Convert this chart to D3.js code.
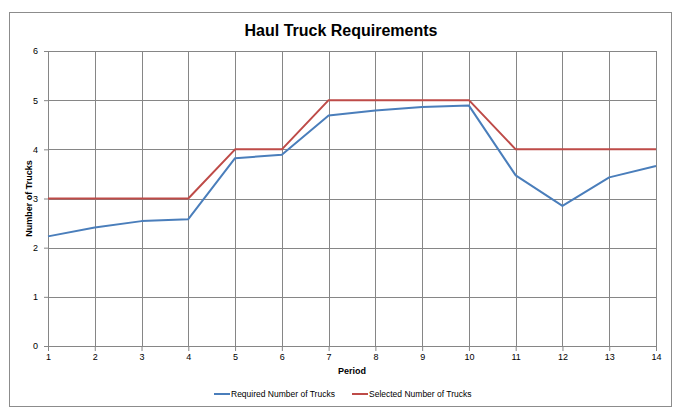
<!DOCTYPE html>
<html>
<head>
<meta charset="utf-8">
<script src="https://cdn.jsdelivr.net/npm/d3@7"></script>
<style>
  body { margin: 0; background: #fff; }
  text { font-family: "Liberation Sans", Arial, sans-serif; fill: #000; }
</style>
</head>
<body>
<div id="chart"></div>
<script>
const periods = [1, 2, 3, 4, 5, 6, 7, 8, 9, 10, 11, 12, 13, 14];
const required = [2.23, 2.41, 2.54, 2.58, 3.82, 3.89, 4.69, 4.79, 4.86, 4.89, 3.47, 2.85, 3.43, 3.66];
const selected = [3, 3, 3, 3, 4, 4, 5, 5, 5, 5, 4, 4, 4, 4];
const yTicks = [0, 1, 2, 3, 4, 5, 6];
const seriesNames = ["Required Number of Trucks", "Selected Number of Trucks"];
const colors = ["#4A7EBB", "#BE4B48"];

const W = 683, H = 420;
const margin = { top: 51, right: 27, bottom: 74, left: 48 };
const width = W - margin.left - margin.right;
const height = H - margin.top - margin.bottom;

const svg = d3.select("#chart").append("svg")
    .attr("width", W)
    .attr("height", H);

// outer chart frame
svg.append("rect")
    .attr("x", 9.5).attr("y", 12.5)
    .attr("width", 662).attr("height", 394)
    .attr("fill", "none")
    .attr("stroke", "#8c8c8c");

svg.append("text")
    .text("Haul Truck Requirements")
    .attr("x", 341).attr("y", 36)
    .attr("text-anchor", "middle")
    .attr("font-size", "16px")
    .attr("font-weight", "bold");

const g = svg.append("g")
    .attr("transform", "translate(" + margin.left + "," + margin.top + ")");

const x = d3.scaleLinear().domain([1, 14]).range([0, width]);
const y = d3.scaleLinear().domain([0, 6]).range([height, 0]);

// gridlines
g.selectAll(".hgrid").data(yTicks).enter().append("line")
    .attr("x1", 0).attr("x2", width)
    .attr("y1", d => Math.round(y(d)) + 0.5).attr("y2", d => Math.round(y(d)) + 0.5)
    .attr("stroke", "#868686");
g.selectAll(".vgrid").data(periods).enter().append("line")
    .attr("y1", 0).attr("y2", height)
    .attr("x1", d => Math.round(x(d)) + 0.5).attr("x2", d => Math.round(x(d)) + 0.5)
    .attr("stroke", "#868686");

// axes
const xAxis = g.append("g")
    .attr("transform", "translate(0," + height + ")")
    .call(d3.axisBottom(x).tickValues(periods).tickSize(5).tickPadding(3).tickFormat(d3.format("d")));
const yAxis = g.append("g")
    .call(d3.axisLeft(y).tickValues(yTicks).tickSize(4).tickPadding(6).tickFormat(d3.format("d")));
[xAxis, yAxis].forEach(a => {
    a.select(".domain").attr("stroke", "#868686");
    a.selectAll(".tick line").attr("stroke", "#868686");
    a.selectAll("text").attr("font-size", "9px").attr("font-family", "Liberation Sans, Arial, sans-serif");
});

// axis titles
svg.append("text")
    .text("Period")
    .attr("x", margin.left + width / 2).attr("y", 374)
    .attr("text-anchor", "middle")
    .attr("font-size", "9px")
    .attr("font-weight", "bold");
svg.append("text")
    .text("Number of Trucks")
    .attr("transform", "translate(32," + (margin.top + height / 2) + ") rotate(-90)")
    .attr("text-anchor", "middle")
    .attr("font-size", "9px")
    .attr("font-weight", "bold");

// lines
const line = d3.line()
    .x((d, i) => x(periods[i]))
    .y(d => y(d));
[required, selected].forEach((s, i) => {
    g.append("path")
        .datum(s)
        .attr("d", line)
        .attr("fill", "none")
        .attr("stroke", colors[i])
        .attr("stroke-width", 2)
        .attr("stroke-linejoin", "round");
});

// legend
const legendX = [214, 352];
seriesNames.forEach((name, i) => {
    const lg = svg.append("g").attr("transform", "translate(" + legendX[i] + ",394)");
    lg.append("line")
        .attr("x1", 0).attr("x2", 16)
        .attr("y1", 0).attr("y2", 0)
        .attr("stroke", colors[i])
        .attr("stroke-width", 2);
    lg.append("text")
        .text(name)
        .attr("x", 17).attr("y", 3)
        .attr("font-size", "8.5px");
});
</script>
</body>
</html>
